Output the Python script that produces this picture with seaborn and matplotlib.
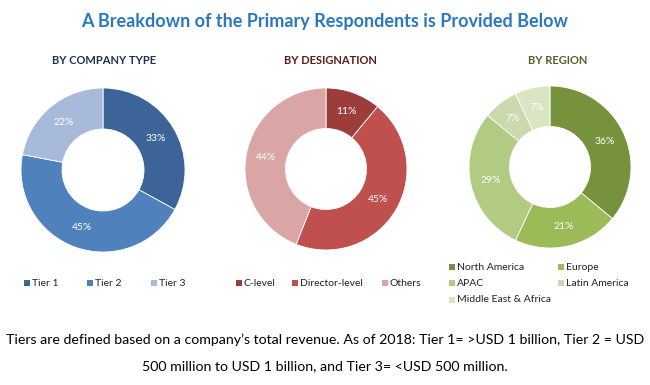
import matplotlib
matplotlib.use("Agg")
import matplotlib.pyplot as plt
import seaborn as sns
from matplotlib.patches import Rectangle

sns.set_theme(style="white")
plt.rcParams['font.family'] = ['Lato', 'DejaVu Sans']

# data
company_labels = ["Tier 1", "Tier 2", "Tier 3"]
company_values = [33, 45, 22]
company_colors = ["#3C6499", "#4F81BD", "#A8BADA"]

desig_labels = ["C-level", "Director-level", "Others"]
desig_values = [11, 45, 44]
desig_colors = ["#9C3D3B", "#C0504D", "#D9A6A5"]

region_labels = ["North America", "Europe", "APAC", "Latin America", "Middle East & Africa"]
region_values = [36, 21, 29, 7, 7]
region_colors = ["#77923C", "#9BBB59", "#B2CB83", "#CBDAAE", "#D8E4C2"]

W, H = 650, 385
fig = plt.figure(figsize=(W / 100, H / 100), dpi=100)

fig.text(325 / W, 1 - 21 / H, "A Breakdown of the Primary Respondents is Provided Below",
         ha="center", va="center", fontsize=13, fontweight="bold", color="#2A78C2")


def donut(cx, cy, r, values, colors, title, tcolor, tx):
    ax = fig.add_axes([(cx - r) / W, 1 - (cy + r) / H, 2 * r / W, 2 * r / H])
    ax.pie(values, colors=colors, startangle=90, counterclock=False,
           autopct=lambda p: f"{p:.0f}%", pctdistance=0.75,
           wedgeprops=dict(width=0.5, edgecolor="white", linewidth=0.6),
           textprops=dict(color="white", fontsize=7.5))
    ax.set_xlim(-1, 1)
    ax.set_ylim(-1, 1)
    ax.set_aspect("equal")
    ax.axis("off")
    fig.text(tx / W, 1 - 61 / H, title, ha="center", va="center", fontsize=8,
             color=tcolor, fontweight="bold")
    return ax

donut(103, 170, 82, company_values, company_colors, "BY COMPANY TYPE", "#1F3050", 104)
donut(326, 169, 81, desig_values, desig_colors, "BY DESIGNATION", "#5A1A1A", 330)
donut(550, 167, 81, region_values, region_colors, "BY REGION", "#4F6228", 558)

def legend_items(labels, colors, positions):
    for lab, col, (x, y) in zip(labels, colors, positions):
        s = 6
        fig.add_artist(Rectangle((x / W, 1 - (y + s / 2) / H), s / W, s / H,
                                 transform=fig.transFigure, facecolor=col, edgecolor="none"))
        fig.text((x + s + 2) / W, 1 - y / H, lab, ha="left", va="center",
                 fontsize=7.5, color="#222222")

legend_items(company_labels, company_colors, [(24, 283), (87, 283), (151, 283)])
legend_items(desig_labels, desig_colors, [(236, 283), (292, 283), (382, 283)])
legend_items(region_labels, region_colors,
             [(449, 267), (558, 267), (449, 283), (558, 283), (449, 300)])

fig.text(325 / W, 1 - 340 / H,
         "Tiers are defined based on a company\u2019s total revenue. As of 2018: Tier 1= >USD 1 billion, Tier 2 = USD",
         ha="center", va="center", fontsize=10.2, color="black")
fig.text(325 / W, 1 - 366 / H,
         "500 million to USD 1 billion, and Tier 3= <USD 500 million.",
         ha="center", va="center", fontsize=10.2, color="black")

fig.savefig("out.png", dpi=100, facecolor="white")
